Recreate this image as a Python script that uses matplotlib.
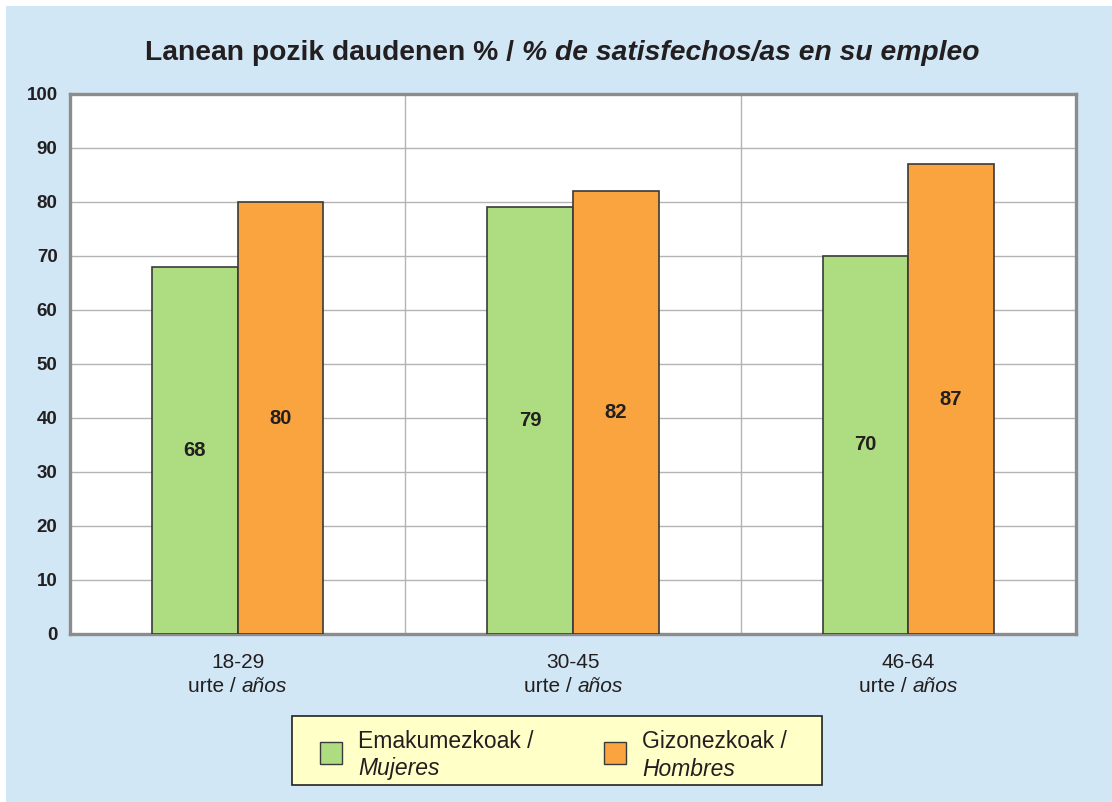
import matplotlib
matplotlib.use('Agg')
import matplotlib.pyplot as plt
from matplotlib.patches import Rectangle
import numpy as np

plt.rcParams['font.family'] = ['Liberation Sans', 'DejaVu Sans']

# data
ranges = ['18-29', '30-45', '46-64']
mujeres = [68, 79, 70]
hombres = [80, 82, 87]

green = '#AEDC80'
orange = '#F9A43E'
blue_bg = '#D2E7F5'
txt = '#231F20'

fig = plt.figure(figsize=(11.12, 8.02), dpi=100)
fig.patch.set_facecolor('white')
fig.patches.append(Rectangle((6 / 1112, 0), 1, 1 - 6 / 802, transform=fig.transFigure,
                             facecolor=blue_bg, edgecolor='none', zorder=-10))

ax = fig.add_axes([70 / 1112, 1 - 634 / 802, (1076 - 70) / 1112, (634 - 94) / 802])
ax.set_facecolor('white')

x = np.arange(len(ranges))
w = 0.255
b1 = ax.bar(x - w / 2, mujeres, w, color=green, edgecolor='#3A3A3A', linewidth=1.2, zorder=3)
b2 = ax.bar(x + w / 2, hombres, w, color=orange, edgecolor='#3A3A3A', linewidth=1.2, zorder=3)
ax.bar_label(b1, label_type='center', fontweight='bold', fontsize=14.5, color=txt)
ax.bar_label(b2, label_type='center', fontweight='bold', fontsize=14.5, color=txt)

ax.set_xlim(-0.5, len(ranges) - 0.5)
ax.set_ylim(0, 100)
ax.set_yticks(np.arange(0, 101, 10))
ax.set_xticks(x)
ax.set_xticklabels([])
ax.tick_params(axis='both', length=0)
ax.tick_params(axis='y', pad=9, labelsize=13.5, labelcolor=txt)
for lab in ax.get_yticklabels():
    lab.set_fontweight('bold')

# grid
ax.yaxis.grid(True, color='#B4B4B4', linewidth=1, zorder=0)
for xv in x[:-1] + 0.5:
    ax.axvline(xv, color='#B4B4B4', linewidth=1, zorder=0)
for s in ax.spines.values():
    s.set_color('#8C8C8C')
    s.set_linewidth(2.4)

# category labels
for xi, r in zip(x, ranges):
    ax.annotate(r, (xi, 0), xycoords=('data', 'axes fraction'), xytext=(0, -20.5),
                textcoords='offset points', ha='center', va='center', fontsize=15, color=txt)
    ax.annotate('urte / ', (xi, 0), xycoords=('data', 'axes fraction'), xytext=(3, -38),
                textcoords='offset points', ha='right', va='center', fontsize=15, color=txt)
    ax.annotate('años', (xi, 0), xycoords=('data', 'axes fraction'), xytext=(3, -38),
                textcoords='offset points', ha='left', va='center', fontsize=15, color=txt,
                style='italic')

# title
t1 = fig.text(145 / 1112, 1 - 53 / 802, 'Lanean pozik daudenen % / ', ha='left', va='center',
              fontsize=20.3, fontweight='bold', color=txt)
t2 = fig.text(0.5, 1 - 53 / 802, '% de satisfechos/as en su empleo', ha='left', va='center',
              fontsize=20.3, fontweight='bold', style='italic', color=txt)
fig.canvas.draw()
bb = t1.get_window_extent()
t2.set_position((bb.x1 / 1112, 1 - 53 / 802))

# legend
fig.patches.append(Rectangle((292 / 1112, 1 - 785 / 802), (822 - 292) / 1112, (785 - 716) / 802,
                             transform=fig.transFigure, facecolor='#FFFFC8', edgecolor='#222222',
                             linewidth=1.2, zorder=1))
leg = [(320, green, 'Emakumezkoak /', 'Mujeres'), (604, orange, 'Gizonezkoak /', 'Hombres')]
for lx, c, l1, l2 in leg:
    fig.text((lx + 38) / 1112, 1 - 742 / 802, l1, ha='left', va='center', fontsize=16.5, color=txt)
    fig.text((lx + 38) / 1112, 1 - 769 / 802, l2, ha='left', va='center', fontsize=16.5, color=txt,
             style='italic')
    fig.patches.append(Rectangle((lx / 1112, 1 - 764 / 802), 22 / 1112, 22 / 802,
                                 transform=fig.transFigure, facecolor=c, edgecolor='#3A3A3A',
                                 linewidth=1, zorder=2))

fig.savefig('out.png', dpi=100, facecolor=fig.get_facecolor())
